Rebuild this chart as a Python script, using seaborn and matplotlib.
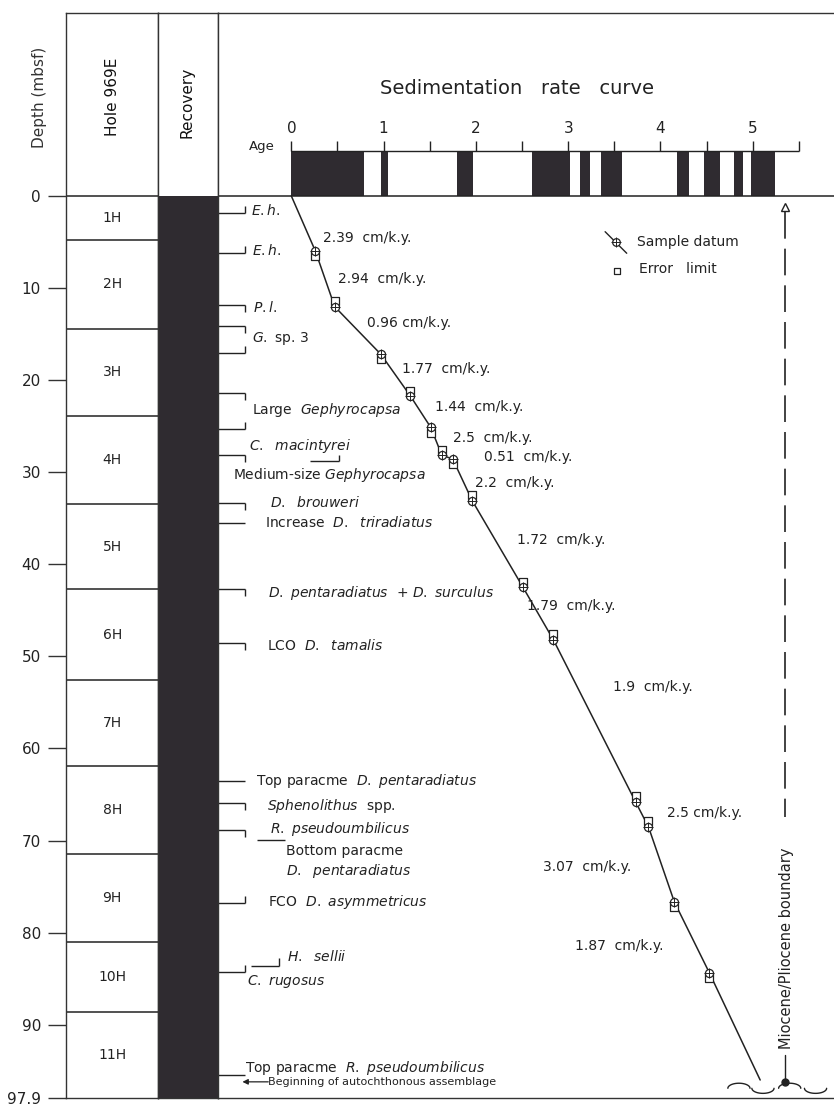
import numpy as np
import pandas as pd
import seaborn as sns
import matplotlib.pyplot as plt
from matplotlib import font_manager
from matplotlib.transforms import blended_transform_factory

sns.set_theme(style="white")
plt.rcParams['font.family'] = ['DejaVu Sans']
plt.rcParams['mathtext.fontset'] = 'dejavusans'

names = {f.name for f in font_manager.fontManager.ttflist}
narrow = 'Liberation Sans Narrow' if 'Liberation Sans Narrow' in names else 'DejaVu Sans'

ink = '#222222'
fill = '#2f2b30'

# cores of hole 969E (mbsf)
core_names = ['1H', '2H', '3H', '4H', '5H', '6H', '7H', '8H', '9H', '10H', '11H']
core_tops = [0, 4.8, 14.4, 23.9, 33.5, 42.7, 52.6, 61.9, 71.45, 81.0, 88.6]
total_depth = 97.9
core_bottoms = core_tops[1:] + [total_depth]
depth_ticks = [0, 10, 20, 30, 40, 50, 60, 70, 80, 90, 97.9]
depth_ticklabels = ['0', '10', '20', '30', '40', '50', '60', '70', '80', '90', '97.9']

# normal polarity intervals (Ma)
chron_start = [0.0, 0.97, 1.80, 2.61, 3.13, 3.36, 4.18, 4.47, 4.80, 4.98]
chron_end = [0.79, 1.05, 1.97, 3.02, 3.24, 3.58, 4.31, 4.64, 4.89, 5.24]
age_labels = [0, 1, 2, 3, 4, 5]

# sample datums (age Ma, depth mbsf) and error limits
datum_age = [0.26, 0.47, 0.97, 1.29, 1.51, 1.63, 1.75, 1.96, 2.51, 2.84, 3.73, 3.87, 4.15, 4.53]
datum_depth = [5.97, 12.02, 17.19, 21.72, 25.12, 28.12, 28.59, 33.09, 42.49, 48.21, 65.8, 68.52, 76.66, 84.37]
error_depth = [6.55, 11.45, 17.75, 21.15, 25.7, 27.55, 29.15, 32.5, 41.9, 47.6, 65.2, 67.9, 77.25, 84.95]
curve_age = [0.0] + datum_age + [5.08]
curve_depth = [0.0] + datum_depth + [96.0]

# sedimentation rates
rate_text = ['2.39  cm/k.y.', '2.94  cm/k.y.', '0.96 cm/k.y.', '1.77  cm/k.y.', '1.44  cm/k.y.',
             '2.5  cm/k.y.', '0.51  cm/k.y.', '2.2  cm/k.y.', '1.72  cm/k.y.', '1.79  cm/k.y.',
             '1.9  cm/k.y.', '2.5 cm/k.y.', '3.07  cm/k.y.', '1.87  cm/k.y.']
rate_age = [0.348, 0.51, 0.82, 1.196, 1.557, 1.749, 2.088, 1.99, 2.442, 2.554, 3.489, 4.067, 2.724, 3.07]
rate_depth = [4.59, 9.05, 13.82, 18.82, 22.88, 26.31, 28.31, 31.2, 37.35, 44.5, 53.3, 66.97, 72.9, 81.44]

# biostratigraphic events
event_depth = [1.81, 6.22, 11.84, 14.08, 17.08, 21.42, 25.33, 28.16, 33.37, 35.54, 42.71, 48.57,
               63.58, 65.91, 68.9, 76.81, 84.24, 95.5]
event_tick = ['up', 'up', 'down', 'down', 'up', 'down', 'up', 'down', 'down', 'none', 'down', 'down',
              'none', 'down', 'down', 'up', 'up', 'none']
bio_text = [r'$\it{E.h.}$', r'$\it{E.h.}$', r'$\it{P.l.}$', r'$\it{G.}$ sp. 3',
            r'Large  $\it{Gephyrocapsa}$', r'$\it{C.\ \ macintyrei}$', r'Medium-size $\it{Gephyrocapsa}$',
            r'$\it{D.\ \ brouweri}$', r'Increase  $\it{D.\ \ triradiatus}$',
            r'$\it{D.\ pentaradiatus}$  + $\it{D.\ surculus}$', r'LCO  $\it{D.\ \ tamalis}$',
            r'Top paracme  $\it{D.\ pentaradiatus}$', r'$\it{Sphenolithus}$  spp.',
            r'$\it{R.\ pseudoumbilicus}$', 'Bottom paracme', r'$\it{D.\ \ pentaradiatus}$',
            r'FCO  $\it{D.\ asymmetricus}$', r'$\it{H.\ \ sellii}$', r'$\it{C.\ rugosus}$',
            r'Top paracme  $\it{R.\ pseudoumbilicus}$']
bio_age = [-0.44, -0.43, -0.42, -0.43, -0.43, -0.459, -0.632, -0.231, -0.285, -0.252, -0.267,
           -0.382, -0.267, -0.231, -0.057, -0.057, -0.252, -0.05, -0.477, -0.50]
bio_depth = [1.63, 5.9, 12.09, 15.45, 23.24, 27.15, 30.3, 33.3, 35.5, 43.14, 48.83, 63.5, 66.24,
             68.77, 71.09, 73.26, 76.63, 82.6, 85.31, 94.72]
# small connectors between paired labels
conn_age0 = [0.203, -0.375, -0.44]
conn_age1 = [0.517, -0.068, -0.13]
conn_depth = [28.75, 69.9, 83.6]
conn_tick = [0.65, 0.0, 0.85]

boundary_age = 5.35
hiatus_age = [4.85, 5.11, 5.40, 5.68]
hiatus_dir = [1, -1, 1, -1]

W, H = 834, 1104
def px_rect(x0, y0, x1, y1):
    return [x0 / W, 1 - y1 / H, (x1 - x0) / W, (y1 - y0) / H]

fig = plt.figure(figsize=(W / 100, H / 100), dpi=100)
ax_hole = fig.add_axes(px_rect(66, 13, 158.3, 1097.5))
ax_rec = fig.add_axes(px_rect(158.3, 13, 217.5, 1097.5), sharey=ax_hole)
ax_main = fig.add_axes(px_rect(217.5, 13, 834, 1097.5), sharey=ax_hole)

for ax in (ax_hole, ax_rec, ax_main):
    for s in ax.spines.values():
        s.set_color('#333333')
        s.set_linewidth(1.0)
ax_main.spines['right'].set_visible(False)

# --- hole column
ax_hole.set_xlim(0, 1)
ax_hole.set_xticks([])
ax_hole.set_yticks(depth_ticks)
ax_hole.set_yticklabels(depth_ticklabels)
ax_hole.tick_params(axis='y', left=True, direction='out', length=13, width=1.0,
                    color='#333333', labelsize=11, labelcolor=ink, pad=5)
ax_hole.hlines([0] + core_tops[1:], 0, 1, color=ink, lw=1.1)
for name, t, b in zip(core_names, core_tops, core_bottoms):
    ax_hole.text(0.5, (t + b) / 2, name, ha='center', va='center', fontsize=10, color=ink)
bt = blended_transform_factory(ax_hole.transAxes, ax_hole.transData)
ax_hole.text(0.5, -10.75, 'Hole 969E', rotation=90, ha='center', va='center',
             fontsize=11, color='#111111', transform=bt)
ax_hole.text(-0.29, -10.75, 'Depth (mbsf)', rotation=90, ha='center', va='center',
             fontsize=11, color='#333333', transform=bt)

# --- recovery column
ax_rec.set_xlim(0, 1)
ax_rec.set_xticks([])
ax_rec.tick_params(axis='y', left=False, labelleft=False)
ax_rec.bar(0.5, total_depth, bottom=0, width=1.0, color=fill, edgecolor='none')
ax_rec.text(0.48, -10.2, 'Recovery', rotation=90, ha='center', va='center', fontsize=11, color='#111111')

# --- sedimentation rate panel
ax_main.set_xlim(-0.80, 5.88)
ax_main.set_xticks([])
ax_main.tick_params(axis='y', left=False, labelleft=False)
ax_main.axhline(0, color=ink, lw=1.1)

bar_top = -4.83
ax_main.broken_barh([(s, e - s) for s, e in zip(chron_start, chron_end)], (bar_top, -bar_top),
                    facecolor=fill, edgecolor='none')
ax_main.hlines(bar_top, 0, 5.5, color=ink, lw=1.0)
ax_main.vlines(np.arange(0, 5.51, 0.5), bar_top - 1.1, bar_top, color=ink, lw=1.0)
for a in age_labels:
    ax_main.text(a, -7.3, str(a), ha='center', va='center', fontsize=11, family=narrow, color=ink)
ax_main.text(-0.18, -5.35, 'Age', ha='right', va='center', fontsize=9.5, family=narrow, color=ink)
ax_main.text(2.45, -11.7, 'Sedimentation   rate   curve', ha='center', va='center',
             fontsize=14, family=narrow, color=ink)

curve = pd.DataFrame({'age': curve_age, 'depth': curve_depth})
sns.lineplot(data=curve, x='age', y='depth', sort=False, estimator=None, color=ink, lw=1.1, ax=ax_main)
sns.scatterplot(x=datum_age, y=error_depth, marker='s', s=26, color='white', edgecolor=ink,
                linewidth=0.9, zorder=4, ax=ax_main)
sns.scatterplot(x=datum_age, y=datum_depth, marker='o', s=34, color='white', edgecolor=ink,
                linewidth=0.9, zorder=5, ax=ax_main)
sns.scatterplot(x=datum_age, y=datum_depth, marker='+', s=60, color=ink, linewidth=0.7,
                zorder=6, ax=ax_main)

for t, a, d in zip(rate_text, rate_age, rate_depth):
    ax_main.text(a, d, t, ha='left', va='center', fontsize=10, color=ink)

# legend
ax_main.plot([3.40, 3.634], [3.88, 6.22], color=ink, lw=1.0)
ax_main.scatter([3.518], [5.05], marker='o', s=30, color='white', edgecolor=ink, linewidth=0.9, zorder=5)
ax_main.scatter([3.518], [5.05], marker='+', s=50, color=ink, linewidth=0.7, zorder=6)
ax_main.text(3.749, 5.0, 'Sample datum', ha='left', va='center', fontsize=10, color=ink)
ax_main.scatter([3.532], [8.1], marker='s', s=24, color='white', edgecolor=ink, linewidth=0.9, zorder=5)
ax_main.text(3.767, 7.95, 'Error   limit', ha='left', va='center', fontsize=10, color=ink)

# event brackets
tick_len = 0.76
x_left, x_brk = -0.80, -0.50
for d, tk in zip(event_depth, event_tick):
    ax_main.hlines(d, x_left, x_brk, color=ink, lw=1.0)
    if tk == 'up':
        ax_main.vlines(x_brk, d - tick_len, d, color=ink, lw=1.0)
    elif tk == 'down':
        ax_main.vlines(x_brk, d, d + tick_len, color=ink, lw=1.0)
for a0, a1, d, tk in zip(conn_age0, conn_age1, conn_depth, conn_tick):
    ax_main.hlines(d, a0, a1, color=ink, lw=1.0)
    if tk > 0:
        ax_main.vlines(a1, d - tk, d, color=ink, lw=1.0)
for t, a, d in zip(bio_text, bio_age, bio_depth):
    ax_main.text(a, d, t, ha='left', va='center', fontsize=10, color=ink)

ax_main.annotate('', xy=(-0.53, 96.2), xytext=(-0.25, 96.2),
                 arrowprops=dict(arrowstyle='-|>', lw=0.9, color=ink, mutation_scale=8,
                                 shrinkA=0, shrinkB=0))
ax_main.text(-0.25, 96.2, 'Beginning of autochthonous assemblage', ha='left', va='center',
             fontsize=8, family=narrow, color=ink)

# Miocene/Pliocene boundary
ax_main.plot([boundary_age, boundary_age], [1.7, 67.4], color=ink, lw=1.2, linestyle=(0, (16, 6)))
ax_main.plot([boundary_age], [1.2], marker='^', ms=6, mfc='white', mec=ink, mew=1.0)
ax_main.text(boundary_age + 0.02, 81.66, 'Miocene/Pliocene boundary', rotation=90, ha='center',
             va='center', fontsize=10.5, color=ink)
ax_main.plot([boundary_age, boundary_age], [93.3, 96.2], color=ink, lw=1.0)
ax_main.plot([boundary_age], [96.2], marker='o', ms=5, color=ink)
t = np.linspace(0, np.pi, 30)
for c, sgn in zip(hiatus_age, hiatus_dir):
    ax_main.plot(c + 0.12 * np.cos(t), 96.9 - sgn * 0.55 * np.sin(t), color=ink, lw=1.0)

for ax in (ax_hole, ax_rec, ax_main):
    ax.set_xlabel('')
    ax.set_ylabel('')
    ax.grid(False)
ax_hole.set_ylim(total_depth, -19.87)

fig.savefig('out.png', dpi=100)
